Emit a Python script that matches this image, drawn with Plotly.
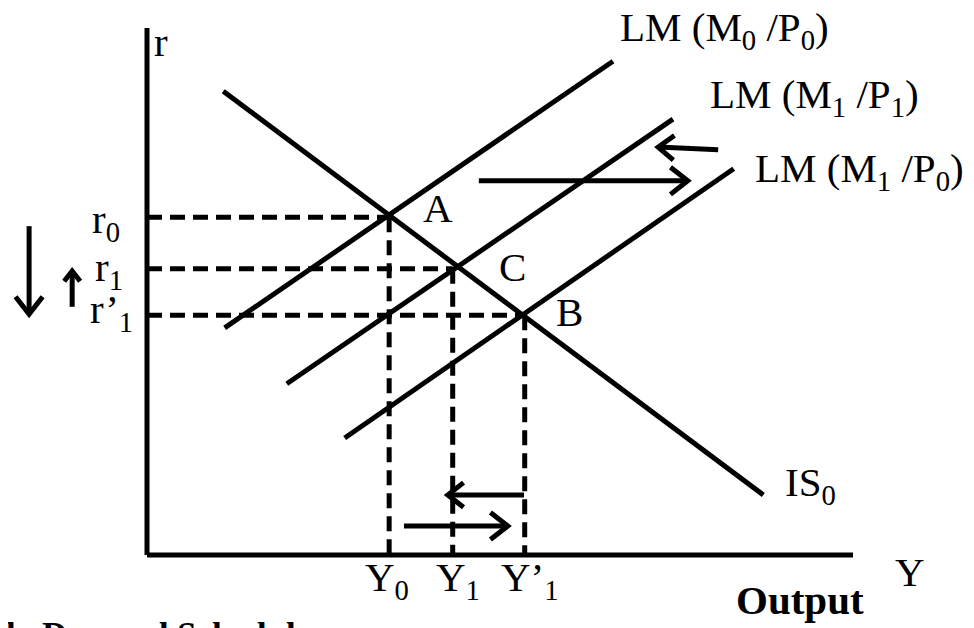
import math
import plotly.graph_objects as go

# ---- data (chart units: origin at the axes corner) ----
IS_x = [1.08, 8.73]
IS_y = [8.80, 1.14]
LM0_x = [1.10, 6.60]
LM0_y = [4.31, 9.37]
LM1P1_x = [1.98, 7.45]
LM1P1_y = [3.25, 8.27]
LM1P0_x = [2.80, 8.31]
LM1P0_y = [2.22, 7.33]

eq_names = ["A", "C", "B"]
eq_Y = [3.43, 4.33, 5.35]
eq_r = [6.41, 5.43, 4.55]

Y_labels = ["Y<sub>0</sub>", "Y<sub>1</sub>", "Y’<sub>1</sub>"]
r_labels = ["r<sub>0</sub>", "r<sub>1</sub>", "r’<sub>1</sub>"]

# arrows: (x0, y0, x1, y1, head length px)  tail -> tip
arrows = [
    (4.70, 7.10, 7.66, 7.10, 22),
    (8.09, 7.69, 7.24, 7.74, 20),
    (5.34, 1.14, 4.26, 1.14, 20),
    (3.64, 0.55, 5.11, 0.55, 22),
    (-1.67, 6.24, -1.67, 4.57, 22),
    (-1.06, 4.71, -1.06, 5.39, 13),
]

FONT = "Liberation Serif"
LW = 5
SX, SY = 70.6, 52.7  # px per unit
W, H = 966, 620
OX, OY = 139, 547    # origin in figure pixels

fig = go.Figure()

def line(xs, ys, dash=None, width=LW):
    fig.add_trace(go.Scatter(x=xs, y=ys, mode="lines",
                             line=dict(color="black", width=width, dash=dash),
                             hoverinfo="skip", showlegend=False))

# axes
line([0, 0], [10, 0])
line([0, 10], [0, 0])

# dashed guides
for Yv, rv in zip(eq_Y, eq_r):
    line([0, Yv], [rv, rv], dash="15px,8px")
    line([Yv, Yv], [rv, 0], dash="15px,8px")

# curves
line(IS_x, IS_y)
line(LM0_x, LM0_y)
line(LM1P1_x, LM1P1_y)
line(LM1P0_x, LM1P0_y)

# arrows with open V heads
for x0, y0, x1, y1, L in arrows:
    line([x0, x1], [y0, y1])
    dx, dy = (x1 - x0) * SX, (y1 - y0) * SY
    n = math.hypot(dx, dy)
    ux, uy = dx / n, dy / n
    th = math.radians(38)
    hx, hy = [], []
    for s in (1, -1):
        c, si = math.cos(s * th), math.sin(s * th)
        rx, ry = ux * c - uy * si, ux * si + uy * c
        hx.append(x1 - L * rx / SX)
        hy.append(y1 - L * ry / SY)
    line([hx[0], x1, hx[1]], [hy[0], y1, hy[1]])

ann = []
def text(x, y, s, size=41, xa="center", ya="middle", bold=False, xref="x"):
    if bold:
        s = "<b>" + s + "</b>"
    ann.append(dict(x=x, y=y, xref=xref, yref="y", text=s, showarrow=False,
                    xanchor=xa, yanchor=ya,
                    font=dict(family=FONT, size=size, color="black")))

text(0.20, 9.73, "r")
text(6.67, 9.96, "LM (M<sub>0</sub> /P<sub>0</sub>)", xa="left")
text(7.95, 8.69, "LM (M<sub>1</sub> /P<sub>1</sub>)", xa="left")
text(8.58, 7.29, "LM (M<sub>1</sub> /P<sub>0</sub>)", xa="left")
label_pos = [(4.12, 6.58), (5.17, 5.46), (5.99, 4.61)]
for nm, (lx, ly) in zip(eq_names, label_pos):
    text(lx, ly, nm)
text(9.01, 1.33, "IS<sub>0</sub>", xa="left")
text(10.81, -0.32, "Y")
text(9.25, -0.85, "Output", bold=True)
for Yv, lab in zip([3.40, 4.41, 5.42], Y_labels):
    text(Yv, -0.47, lab)
for (rx, ry), lab in zip([(-0.35, 6.32), (-0.31, 5.41), (-0.17, 4.61)], r_labels):
    text(rx, ry, lab, xa="right")
text(-0.004, -1.11, "ly Demand Schedule", size=35, xa="left", ya="top", bold=True,
     xref="paper")

fig.update_layout(
    width=W, height=H,
    margin=dict(l=0, r=0, t=0, b=0),
    paper_bgcolor="white", plot_bgcolor="white",
    xaxis=dict(range=[-OX / SX, (W - OX) / SX], visible=False, fixedrange=True),
    yaxis=dict(range=[(OY - H) / SY, OY / SY], visible=False, fixedrange=True),
    annotations=ann,
    showlegend=False,
)

fig.write_html("out.html")
